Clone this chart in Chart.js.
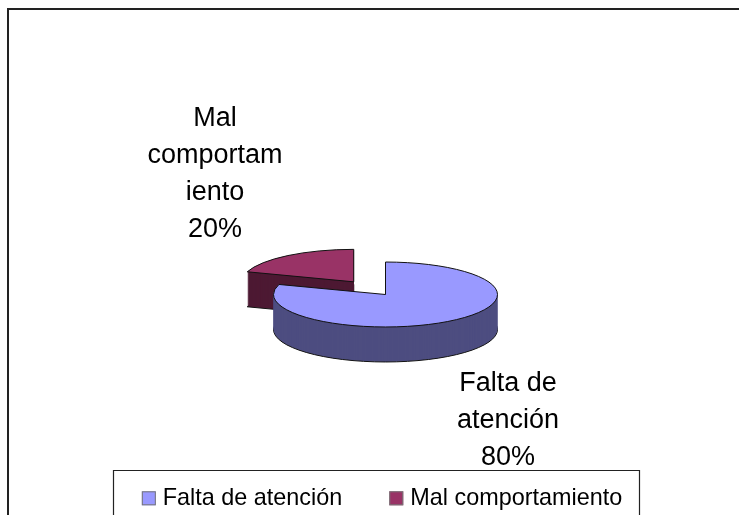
<!DOCTYPE html>
<html><head><meta charset="utf-8">
<style>html,body{margin:0;padding:0;background:#fff}canvas{display:block}</style>
<script src="https://cdn.jsdelivr.net/npm/chart.js@4"></script>
</head><body>
<div style="width:739px;height:515px"><canvas id="c" width="739" height="515"></canvas></div>
<script>
const categories = ["Falta de atención", "Mal comportamiento"];
const values = [80, 20];
const sliceColors = ["#9999FF", "#993366"];
const wallColors = ["#4D4D80", "#4D1933"];
const explode = [0, 108];
const sliceLabels = [["Falta de","atención","80%"], ["Mal","comportam","iento","20%"]];
const labelAnchors = [[508, 384], [215, 119]];
const FONT = '"Liberation Sans", Arial, sans-serif';
const PIE = {cx: 385.5, cy: 294.5, sy: 0.29, depth: 35};

function slicePath(ctx, a, off){
  const p = a.getProps(['x','y','startAngle','endAngle','outerRadius'], true);
  const m = (p.startAngle + p.endAngle) / 2;
  const ox = Math.cos(m) * off / 2, oy = Math.sin(m) * off / 2;
  ctx.beginPath();
  ctx.moveTo(PIE.cx + ox, PIE.cy + oy * PIE.sy);
  ctx.ellipse(PIE.cx + ox, PIE.cy + oy * PIE.sy, p.outerRadius, p.outerRadius * PIE.sy, 0, p.startAngle, p.endAngle);
  ctx.closePath();
}
const pie3d = {
  id: 'pie3d',
  beforeDraw(chart){
    const ctx = chart.ctx;
    ctx.save();
    ctx.strokeStyle = '#222'; ctx.lineWidth = 2;
    ctx.beginPath(); ctx.moveTo(8, 515); ctx.lineTo(8, 9); ctx.lineTo(739, 9); ctx.stroke();
    ctx.restore();
  },
  // the library's own arc elements give every slice's angles and radius
  beforeDatasetsDraw(chart){
    const ctx = chart.ctx, arcs = chart.getDatasetMeta(0).data;
    ctx.save();
    [1, 0].forEach(i => {
      const a = arcs[i], off = explode[i];
      for (let d = PIE.depth; d >= 1; d--) {
        ctx.save(); ctx.translate(0, d);
        slicePath(ctx, a, off);
        ctx.fillStyle = wallColors[i]; ctx.fill();
        if (d === PIE.depth) { ctx.strokeStyle = '#111'; ctx.lineWidth = 1; ctx.stroke(); }
        ctx.restore();
      }
      slicePath(ctx, a, off);
      ctx.fillStyle = sliceColors[i]; ctx.fill();
      ctx.strokeStyle = '#111'; ctx.lineWidth = 1; ctx.stroke();
    });
    ctx.restore();
    return false;
  },
  afterDraw(chart){
    const ctx = chart.ctx;
    ctx.save();
    ctx.fillStyle = '#000'; ctx.textAlign = 'center'; ctx.textBaseline = 'middle';
    ctx.font = '27px ' + FONT;
    sliceLabels.forEach((lines, i) => {
      lines.forEach((t, j) => ctx.fillText(t, labelAnchors[i][0], labelAnchors[i][1] + j * 37));
    });
    ctx.strokeStyle = '#222'; ctx.lineWidth = 1.2;
    ctx.beginPath(); ctx.moveTo(113.5, 515); ctx.lineTo(113.5, 470.5); ctx.lineTo(639.5, 470.5); ctx.lineTo(639.5, 515); ctx.stroke();
    chart.legend.legendHitBoxes.forEach((b, i) => {
      const sy = b.top + b.height / 2 - 7;
      ctx.fillStyle = sliceColors[i]; ctx.strokeStyle = '#777'; ctx.lineWidth = 1;
      ctx.fillRect(b.left, sy, 14, 14);
      ctx.strokeRect(b.left + .5, sy + .5, 13, 13);
    });
    ctx.restore();
  }
};
new Chart(document.getElementById('c'), {
  type: 'pie',
  data: {labels: categories, datasets: [{data: values, backgroundColor: sliceColors, borderWidth: 0, offset: explode, radius: 112}]},
  plugins: [pie3d],
  options: {
    responsive: false, animation: false, devicePixelRatio: 1,
    layout: {padding: {left: 25, right: 0, top: 0, bottom: -5}},
    plugins: {
      tooltip: {enabled: false},
      legend: {display: true, position: 'bottom',
        labels: {boxWidth: 9.3, boxHeight: 14, padding: 47, color: '#000', font: {family: FONT, size: 23.4},
          generateLabels(chart){
            return categories.map((t,i) => ({text: t, fillStyle: 'transparent', strokeStyle: 'transparent', lineWidth: 0, index: i, hidden: false}));
          }}}
    }
  }
});
</script>
</body></html>
